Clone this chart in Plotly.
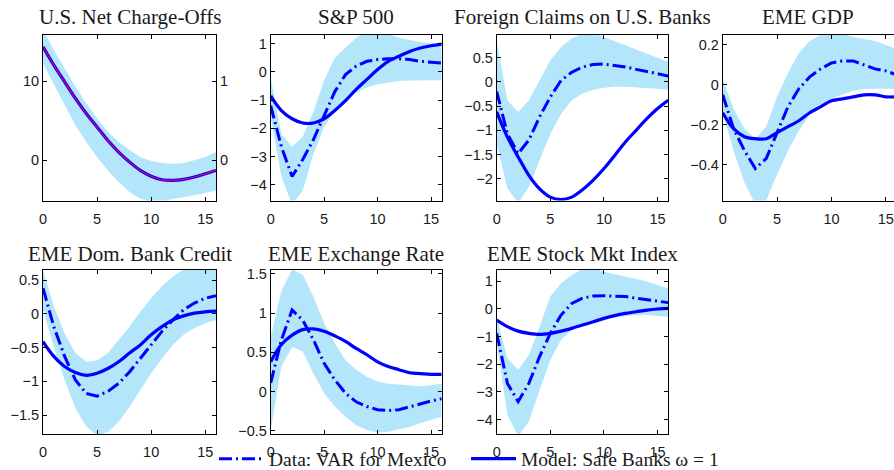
import plotly.graph_objects as go

# ---------------- data ----------------
quarters = list(range(17))

titles = ["U.S. Net Charge-Offs", "S&P 500", "Foreign Claims on U.S. Banks", "EME GDP",
          "EME Dom. Bank Credit", "EME Exchange Rate", "EME Stock Mkt Index"]

# Panel 1: U.S. Net Charge-Offs (left axis) and model on right axis
chargeoffs_data = [14.3, 12.0, 9.9, 7.8, 5.9, 4.2, 2.5, 1.05, -0.2, -1.27, -2.0, -2.45, -2.53, -2.4, -2.1, -1.7, -1.27]
chargeoffs_hi = [16.5, 13.9, 11.6, 9.3, 7.2, 5.3, 3.6, 2.3, 1.3, 0.42, -0.08, -0.34, -0.42, -0.34, 0.0, 0.42, 1.05]
chargeoffs_lo = [12.2, 9.5, 7.0, 4.4, 2.3, 0.42, -1.27, -2.74, -4.0, -4.85, -5.2, -5.2, -4.85, -4.64, -4.4, -4.1, -3.8]
chargeoffs_model = [1.43, 1.20, 0.99, 0.78, 0.59, 0.42, 0.25, 0.105, -0.02, -0.127, -0.20, -0.245, -0.253, -0.24, -0.21, -0.17, -0.127]

sp500_data = [-1.2, -2.65, -3.7, -3.1, -2.4, -1.55, -0.7, -0.1, 0.2, 0.37, 0.43, 0.46, 0.46, 0.43, 0.37, 0.34, 0.31]
sp500_hi = [-0.2, -2.2, -2.65, -2.3, -1.4, -0.3, 0.5, 0.85, 1.2, 1.4, 1.4, 1.35, 1.2, 1.12, 1.05, 1.0, 0.95]
sp500_lo = [-1.6, -3.7, -4.7, -4.2, -2.9, -1.95, -1.37, -1.0, -0.73, -0.56, -0.44, -0.38, -0.33, -0.31, -0.3, -0.3, -0.3]
sp500_model = [-0.85, -1.37, -1.66, -1.81, -1.81, -1.66, -1.37, -1.02, -0.62, -0.27, 0.08, 0.37, 0.55, 0.72, 0.84, 0.92, 0.98]

claims_data = [-0.2, -1.07, -1.48, -1.2, -0.72, -0.31, 0.03, 0.2, 0.31, 0.36, 0.37, 0.34, 0.31, 0.26, 0.22, 0.17, 0.12]
claims_hi = [0.86, -0.38, -0.62, -0.38, 0.03, 0.45, 0.72, 0.9, 1.0, 1.0, 0.93, 0.85, 0.76, 0.67, 0.59, 0.5, 0.41]
claims_lo = [-1.28, -2.2, -2.5, -2.17, -1.62, -1.07, -0.66, -0.38, -0.24, -0.16, -0.12, -0.1, -0.1, -0.11, -0.12, -0.14, -0.16]
claims_model = [-0.62, -1.14, -1.55, -1.93, -2.21, -2.38, -2.43, -2.38, -2.23, -2.03, -1.79, -1.52, -1.24, -1.0, -0.76, -0.55, -0.38]

gdp_data = [-0.05, -0.22, -0.33, -0.42, -0.37, -0.24, -0.11, -0.02, 0.04, 0.08, 0.11, 0.12, 0.12, 0.1, 0.08, 0.07, 0.05]
gdp_hi = [0.03, -0.12, -0.22, -0.27, -0.21, -0.06, 0.06, 0.16, 0.22, 0.25, 0.26, 0.26, 0.24, 0.23, 0.22, 0.2, 0.18]
gdp_lo = [-0.14, -0.33, -0.49, -0.6, -0.58, -0.45, -0.33, -0.23, -0.15, -0.1, -0.07, -0.05, -0.03, -0.02, -0.02, -0.02, -0.02]
gdp_model = [-0.14, -0.22, -0.26, -0.27, -0.27, -0.24, -0.21, -0.18, -0.14, -0.11, -0.08, -0.07, -0.06, -0.05, -0.05, -0.06, -0.06]

credit_data = [0.38, -0.19, -0.63, -0.98, -1.18, -1.22, -1.15, -1.03, -0.86, -0.66, -0.46, -0.26, -0.09, 0.06, 0.16, 0.23, 0.27]
credit_hi = [0.65, 0.11, -0.29, -0.58, -0.71, -0.69, -0.58, -0.39, -0.19, 0.03, 0.23, 0.41, 0.55, 0.66, 0.72, 0.75, 0.77]
credit_lo = [0.06, -0.49, -0.98, -1.4, -1.67, -1.8, -1.75, -1.6, -1.38, -1.13, -0.88, -0.66, -0.46, -0.31, -0.21, -0.14, -0.09]
credit_model = [-0.41, -0.63, -0.78, -0.87, -0.91, -0.88, -0.81, -0.71, -0.58, -0.46, -0.31, -0.19, -0.09, -0.03, 0.01, 0.03, 0.04]

fx_data = [0.11, 0.66, 1.04, 0.91, 0.66, 0.36, 0.15, -0.02, -0.13, -0.19, -0.23, -0.24, -0.23, -0.19, -0.16, -0.12, -0.09]
fx_hi = [0.7, 1.28, 1.56, 1.49, 1.21, 0.87, 0.62, 0.4, 0.28, 0.19, 0.13, 0.1, 0.09, 0.08, 0.07, 0.08, 0.1]
fx_lo = [-0.49, 0.32, 0.57, 0.51, 0.23, -0.02, -0.19, -0.32, -0.43, -0.49, -0.52, -0.51, -0.48, -0.45, -0.4, -0.36, -0.32]
fx_model = [0.38, 0.6, 0.72, 0.79, 0.8, 0.77, 0.71, 0.64, 0.55, 0.47, 0.38, 0.32, 0.28, 0.24, 0.23, 0.22, 0.22]

stock_data = [-0.88, -2.69, -3.35, -2.69, -1.72, -0.88, -0.22, 0.2, 0.39, 0.47, 0.48, 0.47, 0.45, 0.39, 0.33, 0.28, 0.23]
stock_hi = [-0.28, -1.78, -2.2, -1.66, -0.64, 0.45, 0.93, 1.23, 1.45, 1.45, 1.35, 1.26, 1.17, 1.08, 0.99, 0.87, 0.75]
stock_lo = [-1.24, -3.83, -4.6, -4.07, -2.93, -1.84, -1.12, -0.76, -0.52, -0.4, -0.34, -0.29, -0.25, -0.23, -0.22, -0.25, -0.28]
stock_model = [-0.4, -0.64, -0.8, -0.88, -0.92, -0.88, -0.8, -0.7, -0.58, -0.46, -0.34, -0.24, -0.16, -0.1, -0.04, 0.0, 0.02]

# y-axis ranges and tick values per panel
y_ranges = [[-5.06, 15.8], [-4.55, 1.3], [-2.45, 0.97], [-0.58, 0.25],
            [-1.78, 0.65], [-0.54, 1.55], [-4.52, 1.41]]
y_ticks = [[0, 10], [-4, -3, -2, -1, 0, 1], [-2, -1.5, -1, -0.5, 0, 0.5], [-0.4, -0.2, 0, 0.2],
           [-1.5, -1, -0.5, 0, 0.5], [-0.5, 0, 0.5, 1, 1.5], [-4, -3, -2, -1, 0, 1]]
y_ticktext = [["0", "10"], ["−4", "−3", "−2", "−1", "0", "1"], ["−2", "−1.5", "−1", "−0.5", "0", "0.5"],
              ["−0.4", "−0.2", "0", "0.2"], ["−1.5", "−1", "−0.5", "0", "0.5"],
              ["−0.5", "0", "0.5", "1", "1.5"], ["−4", "−3", "−2", "−1", "0", "1"]]
right_range = [-0.506, 1.58]
right_ticks = [0, 1]
x_ticks = [0, 5, 10, 15]

bands = [(chargeoffs_lo, chargeoffs_hi), (sp500_lo, sp500_hi), (claims_lo, claims_hi), (gdp_lo, gdp_hi),
         (credit_lo, credit_hi), (fx_lo, fx_hi), (stock_lo, stock_hi)]
data_lines = [None, sp500_data, claims_data, gdp_data, credit_data, fx_data, stock_data]
model_lines = [chargeoffs_data, sp500_model, claims_model, gdp_model, credit_model, fx_model, stock_model]

# ---------------- layout geometry ----------------
W, H = 894, 470
cols_px = [(43, 216), (270.7, 441.7), (496.7, 668.3), (722.7, 894)]
rows_px = [(35, 200.5), (270, 434)]
title_y_px = [17, 254]
positions = [(0, 0), (0, 1), (0, 2), (0, 3), (1, 0), (1, 1), (1, 2)]

BAND = "#b3e5fb"
BLUE = "#0000ff"
TICKFONT = dict(family="Liberation Sans, Arial, sans-serif", size=14.5, color="#1a1a1a")
SERIF = "Liberation Serif, Times New Roman, serif"

fig = go.Figure()
layout = dict(width=W, height=H, margin=dict(l=0, r=0, t=0, b=0, autoexpand=False),
              paper_bgcolor="white", plot_bgcolor="white", showlegend=True)
annotations = []

for i, (r, c) in enumerate(positions):
    n = i + 1
    xa = "x" if n == 1 else f"x{n}"
    ya = "y" if n == 1 else f"y{n}"
    x0, x1 = cols_px[c]
    y0, y1 = rows_px[r]
    xmax = 16 if c < 3 else 16 * (x1 - x0) / 174.0
    common = dict(showgrid=False, zeroline=False, showline=True, linecolor="black", linewidth=1,
                  ticks="inside", ticklen=4, tickcolor="black", tickfont=TICKFONT)
    layout["xaxis" if n == 1 else f"xaxis{n}"] = dict(
        domain=[x0 / W, x1 / W], anchor=ya, range=[0, xmax], tickvals=x_ticks,
        mirror="ticks", ticklabelstandoff=5, **common)
    layout["yaxis" if n == 1 else f"yaxis{n}"] = dict(
        domain=[1 - y1 / H, 1 - y0 / H], anchor=xa, range=y_ranges[i], tickvals=y_ticks[i],
        ticktext=y_ticktext[i], mirror=(False if (n == 1 or c == 3) else "ticks"), **common)

    lo, hi = bands[i]
    fig.add_trace(go.Scatter(x=quarters, y=lo, mode="lines", line=dict(width=0, color=BAND),
                             xaxis=xa, yaxis=ya, showlegend=False, hoverinfo="skip"))
    fig.add_trace(go.Scatter(x=quarters, y=hi, mode="lines", line=dict(width=0, color=BAND),
                             fill="tonexty", fillcolor=BAND, xaxis=xa, yaxis=ya,
                             showlegend=False, hoverinfo="skip"))
    if data_lines[i] is not None:
        fig.add_trace(go.Scatter(x=quarters, y=data_lines[i], mode="lines",
                                 line=dict(color=BLUE, width=3, dash="13px,4px,2px,4px"),
                                 xaxis=xa, yaxis=ya, name="Data: VAR for Mexico",
                                 legendrank=1, showlegend=(n == 2)))
    fig.add_trace(go.Scatter(x=quarters, y=model_lines[i], mode="lines",
                             line=dict(color=BLUE, width=3.2, shape="spline"),
                             xaxis=xa, yaxis=ya, name="Model: Safe Banks ω = 1",
                             legendrank=2, showlegend=(n == 2)))

    annotations.append(dict(text=titles[i], xref="paper", yref="paper",
                            x=(x0 + x1) / 2 / W, y=1 - title_y_px[r] / H,
                            xanchor="center", yanchor="middle", showarrow=False,
                            font=dict(family=SERIF, size=21, color="#1a1a1a")))

# right-hand axis of the first panel (model, scaled)
layout["yaxis8"] = dict(overlaying="y", side="right", anchor="x", range=right_range,
                        tickvals=right_ticks, showgrid=False, zeroline=False, showline=True,
                        linecolor="black", linewidth=1, ticks="inside", ticklen=4,
                        tickcolor="black", tickfont=TICKFONT)
fig.add_trace(go.Scatter(x=quarters, y=chargeoffs_model, mode="lines",
                         line=dict(color="#e0006a", width=1.2, shape="spline"),
                         xaxis="x", yaxis="y8", showlegend=False))

layout["annotations"] = annotations
layout["legend"] = dict(orientation="h", x=214 / W, xanchor="left", y=1 - 459 / H, yanchor="middle",
                        bgcolor="rgba(0,0,0,0)", itemwidth=45, tracegroupgap=0, traceorder="normal",
                        entrywidth=192, entrywidthmode="pixels",
                        font=dict(family=SERIF, size=19.5, color="#1a1a1a"))
fig.update_layout(**layout)
fig.write_html("out.html")
